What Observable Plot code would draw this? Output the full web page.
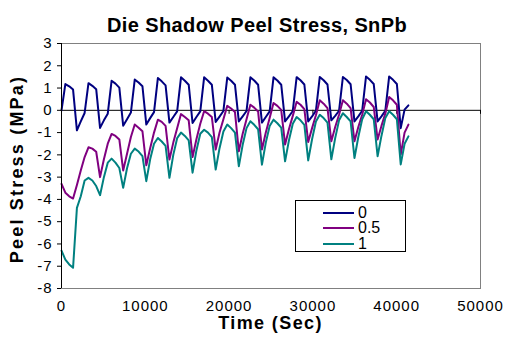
<!DOCTYPE html>
<html>
<head>
<meta charset="utf-8">
<script src="https://cdn.jsdelivr.net/npm/d3@7"></script>
<script src="https://cdn.jsdelivr.net/npm/@observablehq/plot@0.6"></script>
<style>
  body { margin: 0; background: #fff; }
  #wrap { position: relative; width: 506px; height: 341px; font-family: "Liberation Sans", Arial, sans-serif; }
  #legend { position: absolute; left: 295px; top: 200px; width: 109px; height: 50px; border: 1px solid #000; background: #fff; }
  #legend .sw { position: absolute; left: 27px; width: 31px; height: 2px; }
  #legend .lb { position: absolute; left: 62px; font-size: 16px; line-height: 16px; color: #000; }
  [aria-label="x-axis tick label"] text, [aria-label="y-axis tick label"] text { letter-spacing: 1px; }
</style>
</head>
<body>
<div id="wrap"><div id="legend"></div></div>
<script>
const times = [0,460,920,1380,1840,2300,2760,3220,3680,4140,4600,5060,5520,5980,6440,6900,7360,7820,8280,8740,9200,9660,10120,10580,11040,11500,11960,12420,12880,13340,13800,14260,14720,15180,15640,16100,16560,17020,17480,17940,18400,18860,19320,19780,20240,20700,21160,21620,22080,22540,23000,23460,23920,24380,24840,25300,25760,26220,26680,27140,27600,28060,28520,28980,29440,29900,30360,30820,31280,31740,32200,32660,33120,33580,34040,34500,34960,35420,35880,36340,36800,37260,37720,38180,38640,39100,39560,40020,40480,40940,41400];

const stress0 = [0,
  1.18,1.08,0.93,-0.9,-0.5,-0.12,
  1.22,1.1,0.95,-0.79,-0.45,-0.15,
  1.33,1.2,1.02,-0.69,-0.4,-0.1,
  1.38,1.25,1.08,-0.64,-0.35,-0.08,
  1.45,1.3,1.12,-0.55,-0.3,-0.05,
  1.48,1.33,1.15,-0.57,-0.3,-0.05,
  1.48,1.33,1.15,-0.52,-0.28,-0.03,
  1.47,1.33,1.15,-0.5,-0.27,-0.03,
  1.48,1.34,1.15,-0.55,-0.3,-0.05,
  1.48,1.34,1.15,-0.5,-0.27,-0.03,
  1.49,1.35,1.16,-0.5,-0.27,-0.02,
  1.5,1.35,1.16,-0.45,-0.25,-0.02,
  1.5,1.36,1.17,-0.5,-0.27,-0.02,
  1.52,1.37,1.18,-0.5,-0.27,-0.02,
  1.52,1.37,1.18,-0.8,0.03,0.22];

const stress05 = [-3.3,
  -3.7,-3.86,-3.96,-3.35,-2.7,-2.1,
  -1.66,-1.72,-1.86,-3.0,-2.2,-1.5,
  -1.06,-1.15,-1.31,-2.7,-1.95,-1.2,
  -0.64,-0.78,-0.94,-2.47,-1.7,-1.0,
  -0.42,-0.52,-0.7,-2.21,-1.45,-0.8,
  -0.17,-0.3,-0.45,-2.1,-1.3,-0.6,
  -0.04,-0.15,-0.3,-1.76,-1.0,-0.4,
  0.2,0.08,-0.08,-1.84,-1.05,-0.4,
  0.25,0.12,-0.05,-1.76,-1.0,-0.35,
  0.33,0.2,0.02,-1.54,-0.85,-0.25,
  0.38,0.25,0.05,-1.42,-0.8,-0.22,
  0.45,0.3,0.1,-1.39,-0.75,-0.2,
  0.45,0.3,0.1,-1.39,-0.75,-0.2,
  0.5,0.35,0.15,-1.31,-0.7,-0.15,
  0.6,0.45,0.25,-1.99,-1.0,-0.64];

const stress1 = [-6.3,
  -6.7,-6.92,-7.07,-4.38,-3.86,-3.15,
  -3.03,-3.15,-3.4,-3.81,-3.0,-2.35,
  -2.17,-2.35,-2.59,-3.48,-2.6,-1.95,
  -1.72,-1.85,-2.06,-3.18,-2.2,-1.5,
  -1.24,-1.4,-1.6,-3.03,-2.0,-1.25,
  -1.0,-1.15,-1.35,-2.8,-1.8,-1.05,
  -0.87,-1.0,-1.2,-2.66,-1.7,-0.95,
  -0.64,-0.8,-1.0,-2.51,-1.55,-0.8,
  -0.49,-0.65,-0.85,-2.44,-1.45,-0.7,
  -0.42,-0.58,-0.78,-2.29,-1.35,-0.6,
  -0.3,-0.45,-0.65,-2.25,-1.3,-0.5,
  -0.2,-0.35,-0.55,-2.2,-1.25,-0.45,
  -0.13,-0.3,-0.5,-2.14,-1.2,-0.4,
  -0.04,-0.2,-0.4,-2.06,-1.15,-0.35,
  -0.04,-0.2,-0.4,-2.43,-1.5,-1.17];

const seriesNames = ["0", "0.5", "1"];
const seriesColors = ["#000080", "#800080", "#008080"];
const xTicks = [0, 10000, 20000, 30000, 40000, 50000];
const yTicks = [-8, -7, -6, -5, -4, -3, -2, -1, 0, 1, 2, 3];
const titleText = "Die Shadow Peel Stress, SnPb";
const xLabel = "Time (Sec)";
const yLabel = "Peel Stress (MPa)";

const rows = [];
[stress0, stress05, stress1].forEach((arr, j) =>
  arr.forEach((v, i) => rows.push({t: times[i], v, s: seriesNames[j]})));

const chart = Plot.plot({
  width: 506,
  height: 341,
  marginTop: 43,
  marginBottom: 53,
  marginLeft: 61,
  marginRight: 26,
  style: {fontFamily: "Liberation Sans, Arial, sans-serif", fontSize: "15px", background: "#fff", color: "#000"},
  x: {domain: [0, 50000]},
  y: {domain: [-8, 3]},
  color: {domain: seriesNames, range: seriesColors},
  marks: [
    Plot.frame({stroke: "#808080"}),
    Plot.ruleY([0], {stroke: "#000", strokeWidth: 1}),
    Plot.ruleX(xTicks, {x: d => d, y1: 0, y2: 0, insetBottom: -4, stroke: "#000"}),
    Plot.line(rows, {x: "t", y: "v", z: "s", stroke: "s", strokeWidth: 2}),
    Plot.ruleX([0], {stroke: "#000", strokeWidth: 1}),
    Plot.axisY({ticks: yTicks, tickSize: 4, tickPadding: 5, tickFormat: d => String(d), label: null}),
    Plot.axisX({ticks: xTicks, tickSize: 0, tickPadding: 12, tickFormat: d => String(d), label: null}),
    Plot.text([titleText], {text: d => d, frameAnchor: "top", textAnchor: "middle", dx: -14, dy: -25.5, fontSize: 20, fontWeight: "bold"}),
    Plot.text([yLabel], {text: d => d, frameAnchor: "left", textAnchor: "middle", dx: -44, dy: 3, rotate: -90, fontSize: 18, fontWeight: "bold"}),
    Plot.text([xLabel], {text: d => d, frameAnchor: "bottom", textAnchor: "middle", dx: -0.5, dy: 40, fontSize: 18, fontWeight: "bold"})
  ]
});

const spacing = {};
spacing[titleText] = "0.4px";
spacing[yLabel] = "2.2px";
spacing[xLabel] = "1.4px";
d3.select(chart).selectAll("text").each(function() {
  const s = spacing[this.textContent];
  if (s) this.style.letterSpacing = s;
});

const wrap = document.getElementById("wrap");
wrap.insertBefore(chart, wrap.firstChild);

const legend = document.getElementById("legend");
const rowCenters = [11.7, 27.3, 43];
seriesNames.forEach((name, i) => {
  const sw = document.createElement("div");
  sw.className = "sw";
  sw.style.top = (rowCenters[i] - 1) + "px";
  sw.style.background = seriesColors[i];
  legend.appendChild(sw);
  const lb = document.createElement("div");
  lb.className = "lb";
  lb.style.top = (rowCenters[i] - 8) + "px";
  lb.textContent = name;
  legend.appendChild(lb);
});
</script>
</body>
</html>
